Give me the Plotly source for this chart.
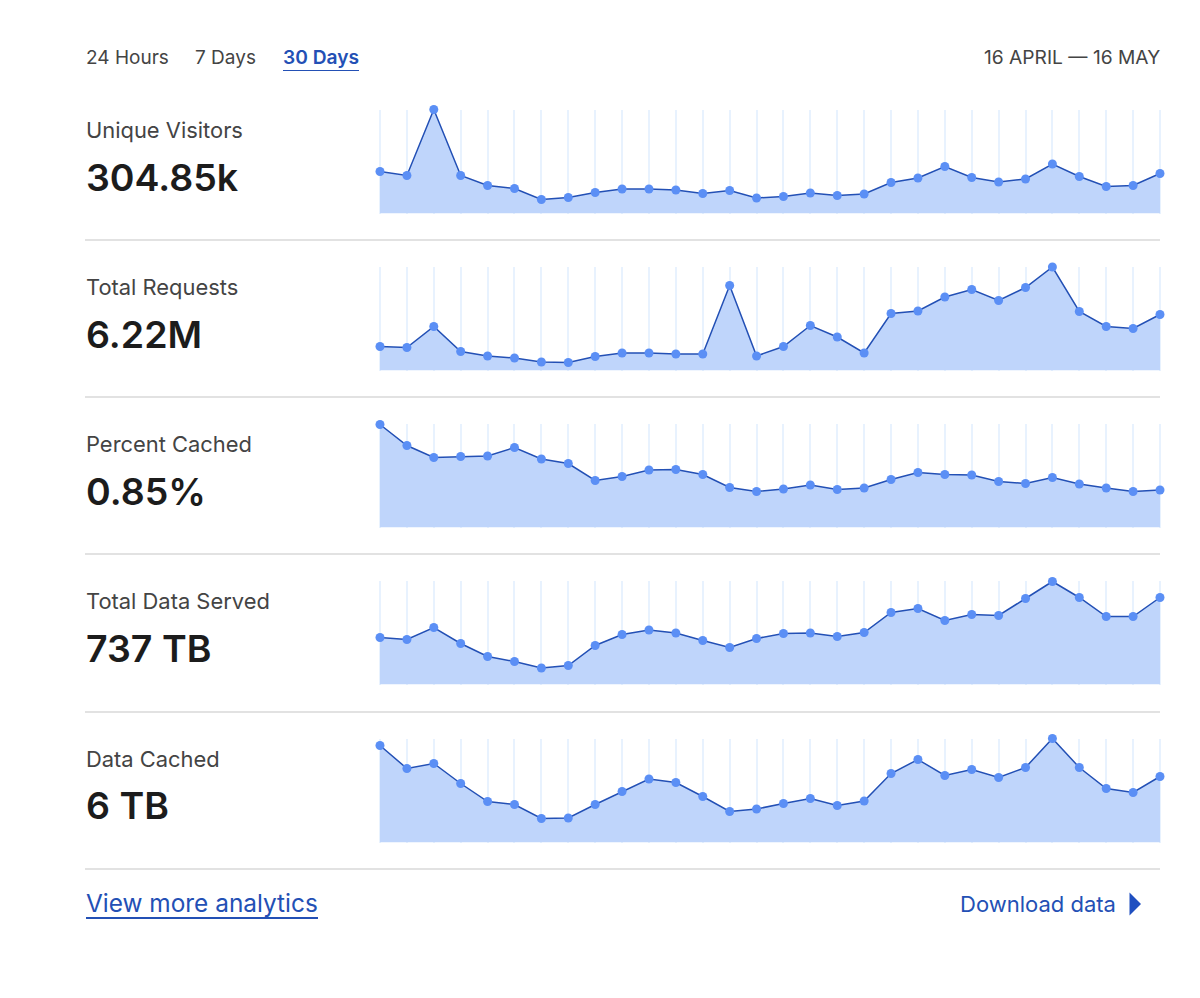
import plotly.graph_objects as go

days = list(range(1, 31))

# heights, one list per metric
unique_visitors = [42, 38, 104, 38, 28, 25, 14, 16, 21, 24.5, 24.5, 23.5, 20, 23, 15.5, 17, 20.5, 18, 19.5, 31, 35.5, 47, 36, 31.5, 34.5, 49.5, 37, 27, 28, 40]
total_requests = [24, 23, 44, 19, 14.5, 12.5, 8.5, 8, 14, 17.5, 17.5, 16.5, 16.5, 85, 14.5, 24, 45, 33.5, 17.5, 57, 59.5, 73.5, 81, 70, 83, 103.5, 59, 44, 42, 56]
percent_cached = [103, 82, 70, 71, 71.5, 80, 68.5, 64, 47, 51, 57.5, 58, 53, 40, 36, 38.5, 42.5, 38, 39.5, 48, 55, 53, 52.5, 46, 44, 50, 43.5, 39.5, 36, 37.5]
total_data = [47, 45, 57, 41, 28, 23, 16.5, 19, 39, 50, 54.5, 51.5, 44, 37, 46, 51, 51.5, 48, 52, 72, 76, 64, 70, 69, 86, 103, 87, 68, 68, 87]
data_cached = [97, 74, 79, 59, 41, 38, 24, 24.5, 38, 51, 63.5, 60, 46, 31, 33.5, 39, 44, 37, 41.5, 69, 83, 67, 73, 65, 75, 104, 75, 54, 50, 66]

labels = ['Unique Visitors', 'Total Requests', 'Percent Cached', 'Total Data Served', 'Data Cached']
totals = ['304.85k', '6.22M', '0.85%', '737 TB', '6 TB']
series = [unique_visitors, total_requests, percent_cached, total_data, data_cached]

W, H = 1200, 998
FONT = 'Inter'
BLUE = '#2350b5'
GREY = '#444444'
baselines = [213.5, 370.5, 527.5, 684.5, 842.5]
label_y = [130, 287, 444, 601, 759]
total_y = [177, 334, 491, 648, 805]
rules = [240, 397, 554, 712, 869]

# plotly drops gridlines sitting on the axis ends, so the axis runs 2px past the first and last day
PAD_PX = 2
pad = PAD_PX * 29 / 780

def py(y):
    return 1 - y / H

def text(s, x, y, size, color=GREY, anchor='left', weight=400):
    return dict(text=s, x=x / W, y=py(y), xref='paper', yref='paper', xanchor=anchor, yanchor='middle',
                showarrow=False, borderpad=0, font=dict(family=FONT, size=size, color=color, weight=weight))

def rule(x0, x1, y, color, width):
    return dict(type='line', xref='paper', yref='paper', x0=x0 / W, x1=x1 / W, y0=py(y), y1=py(y),
                line=dict(color=color, width=width))

fig = go.Figure()
layout = {}
annotations = [
    text('24 Hours', 84.5, 57, 19),
    text('7 Days', 193.5, 57, 19),
    text('30 Days', 281.5, 57, 19.2, BLUE, weight=600),
    text('16 APRIL — 16 MAY', 1161, 57, 19.2, anchor='right'),
    text('View more analytics', 84.5, 903, 24.4, BLUE),
    text('Download data', 959, 904, 22, BLUE),
]
shapes = [rule(283, 359, 70.5, BLUE, 1.2), rule(86, 318, 918, BLUE, 2)]
shapes.append(dict(type='path', xref='paper', yref='paper', fillcolor='#1f4fc0', line=dict(width=0),
                   path=f'M {1129.5/W} {py(892.5)} L {1141/W} {py(904)} L {1129.5/W} {py(915.5)} Z'))

for i, vals in enumerate(series):
    n = i + 1
    fig.add_trace(go.Scatter(
        x=days, y=vals, mode='lines+markers', fill='tozeroy', fillcolor='#bfd5fb',
        line=dict(color='#2350b5', width=1.5), marker=dict(color='#5b8ff5', size=9),
        cliponaxis=False, showlegend=False, hoverinfo='x+y',
        xaxis=f'x{n}', yaxis=f'y{n}',
    ))
    b = baselines[i]
    layout[f'xaxis{n}'] = dict(domain=[(380 - PAD_PX) / W, (1160 + PAD_PX) / W], range=[1 - pad, 30 + pad],
                               tickmode='array', tickvals=days,
                               showgrid=True, gridcolor='#e8f2fe', gridwidth=1.5, showticklabels=False,
                               zeroline=False, showline=False, ticks='', anchor=f'y{n}')
    layout[f'yaxis{n}'] = dict(domain=[py(b), py(b - 104)], range=[0, 104], showgrid=False, showticklabels=False,
                               zeroline=False, showline=False, ticks='', anchor=f'x{n}')
    annotations.append(text(labels[i], 84.5, label_y[i], 21.9))
    annotations.append(text(totals[i], 84.5, total_y[i], 37.5, '#1c1c1c', weight=600))
    shapes.append(rule(85, 1160, rules[i], '#d9d9d9', 1.5))

fig.update_layout(width=W, height=H, margin=dict(l=0, r=0, t=0, b=0), paper_bgcolor='white', plot_bgcolor='white',
                  annotations=annotations, shapes=shapes, showlegend=False, **layout)

fig.write_html('out.html', config={'displayModeBar': False}, post_script="document.body.style.margin='0';")
